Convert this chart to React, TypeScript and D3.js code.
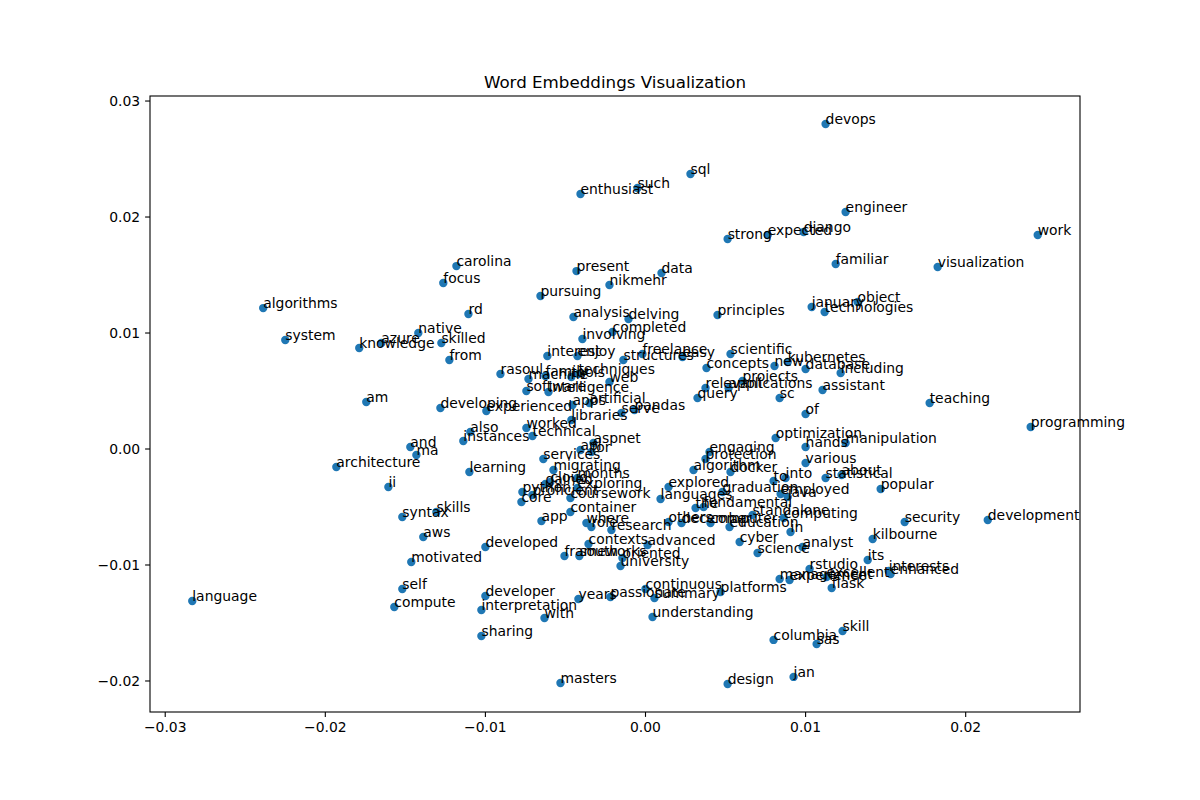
import { useEffect } from 'react'
import * as d3 from 'd3'

// word, x, y
const words: [string, number, number][] = [
  ['devops', 0.01125, 0.02802], ['sql', 0.00281, 0.02371], ['such', -0.0005, 0.0225],
  ['enthusiast', -0.00406, 0.02198], ['engineer', 0.0125, 0.02043], ['work', 0.0245, 0.01845],
  ['django', 0.00988, 0.01871], ['expected', 0.00763, 0.01845], ['strong', 0.00513, 0.0181],
  ['carolina', -0.01181, 0.01577], ['familiar', 0.01188, 0.01595], ['visualization', 0.01825, 0.01569],
  ['present', -0.00431, 0.01534], ['data', 0.001, 0.01517], ['focus', -0.01263, 0.01431],
  ['nikmehr', -0.00225, 0.01414], ['pursuing', -0.00656, 0.01319], ['algorithms', -0.02388, 0.01215],
  ['object', 0.01325, 0.01267], ['january', 0.01038, 0.01224], ['technologies', 0.01119, 0.01181],
  ['rd', -0.01106, 0.01164], ['principles', 0.0045, 0.01155], ['analysis', -0.0045, 0.01138],
  ['delving', -0.00106, 0.01121], ['completed', -0.00206, 0.01009], ['native', -0.01419, 0.01],
  ['system', -0.0225, 0.0094], ['involving', -0.00394, 0.00948], ['azure', -0.0165, 0.00914],
  ['skilled', -0.01275, 0.00914], ['knowledge', -0.01788, 0.00871], ['interest', -0.00613, 0.00802],
  ['enjoy', -0.00425, 0.00802], ['freelance', -0.00019, 0.00819], ['structures', -0.00138, 0.00767],
  ['easy', 0.00231, 0.00793], ['scientific', 0.00531, 0.00819], ['from', -0.01225, 0.00767],
  ['kubernetes', 0.00888, 0.0075], ['concepts', 0.00381, 0.00698], ['new', 0.00806, 0.00715],
  ['database', 0.01, 0.0069], ['including', 0.01219, 0.00655], ['rasoul', -0.00906, 0.00647],
  ['machine', -0.00731, 0.00603], ['family', -0.00625, 0.00629], ['tools', -0.00463, 0.00621],
  ['techniques', -0.00419, 0.00647], ['web', -0.00225, 0.00578], ['software', -0.00744, 0.005],
  ['intelligence', -0.00606, 0.00491], ['applications', 0.00519, 0.00526], ['projects', 0.00606, 0.00586],
  ['relevant', 0.00375, 0.00526], ['query', 0.00325, 0.0044], ['sc', 0.00838, 0.0044],
  ['assistant', 0.01106, 0.00509], ['teaching', 0.01775, 0.00397], ['apps', -0.00456, 0.00379],
  ['artificial', -0.0035, 0.00397], ['experienced', -0.00994, 0.00328], ['developing', -0.01281, 0.00353],
  ['am', -0.01744, 0.00405], ['serve', -0.0015, 0.0031], ['pandas', -0.00069, 0.00336],
  ['libraries', -0.00463, 0.0025], ['of', 0.01, 0.00302], ['worked', -0.00744, 0.00181],
  ['technical', -0.00706, 0.00112], ['also', -0.01094, 0.00147], ['instances', -0.01138, 0.00069],
  ['programming', 0.02406, 0.0019], ['optimization', 0.00813, 0.00095], ['hands', 0.01, 0.00017],
  ['manipulation', 0.0125, 0.00052], ['aspnet', -0.00325, 0.00052], ['api', -0.00406, -0.00009],
  ['for', -0.00338, -0.00026], ['and', -0.01469, 0.00017], ['ma', -0.01431, -0.00052],
  ['engaging', 0.004, -0.00026], ['protection', 0.00375, -0.00086], ['services', -0.00638, -0.00086],
  ['various', 0.01, -0.00121], ['architecture', -0.01931, -0.00155], ['migrating', -0.00575, -0.00181],
  ['learning', -0.011, -0.00198], ['algorithm', 0.003, -0.00181], ['docker', 0.00531, -0.00198],
  ['months', -0.00425, -0.0025], ['statistical', 0.01125, -0.0025], ['about', 0.01225, -0.00224],
  ['into', 0.00875, -0.0025], ['to', 0.008, -0.00276], ['popular', 0.01469, -0.00345],
  ['ii', -0.01606, -0.00328], ['gained', -0.00625, -0.00302], ['cloud', -0.00594, -0.00284],
  ['exploring', -0.00425, -0.00336], ['python', -0.00769, -0.00371], ['proficient', -0.00706, -0.00397],
  ['coursework', -0.00469, -0.00422], ['core', -0.00775, -0.00457], ['explored', 0.00144, -0.00328],
  ['graduation', 0.00481, -0.00371], ['employed', 0.00844, -0.00388], ['languages', 0.00094, -0.00431],
  ['java', 0.00888, -0.00414], ['the', 0.00313, -0.00509], ['fundamental', 0.00363, -0.005],
  ['container', -0.00469, -0.00543], ['standalone', 0.00669, -0.00569], ['computing', 0.00863, -0.00595],
  ['skills', -0.01306, -0.00543], ['syntax', -0.01519, -0.00586], ['app', -0.0065, -0.00621],
  ['others', 0.00144, -0.00629], ['december', 0.00225, -0.00638], ['computer', 0.00406, -0.00638],
  ['education', 0.00525, -0.00672], ['cyber', 0.00588, -0.00802], ['in', 0.00906, -0.00715],
  ['where', -0.00369, -0.00638], ['role', -0.00338, -0.00672], ['research', -0.00213, -0.00698],
  ['analyst', 0.00981, -0.00845], ['science', 0.007, -0.00896], ['contexts', -0.00356, -0.00819],
  ['advanced', 0.00013, -0.00828], ['frameworks', -0.00506, -0.00922], ['south', -0.00413, -0.00922],
  ['oriented', -0.00144, -0.0094], ['university', -0.00156, -0.01009], ['developed', -0.01, -0.00845],
  ['aws', -0.01388, -0.00759], ['motivated', -0.01463, -0.00974], ['its', 0.01388, -0.00957],
  ['kilbourne', 0.01419, -0.00776], ['security', 0.01619, -0.00629], ['development', 0.02138, -0.00612],
  ['rstudio', 0.01025, -0.01034], ['management', 0.00838, -0.01121], ['experience', 0.009, -0.01129],
  ['excellent', 0.01131, -0.01103], ['flask', 0.01163, -0.01198], ['interests', 0.01519, -0.01052],
  ['enhanced', 0.01531, -0.01078], ['self', -0.01519, -0.01207], ['platforms', 0.00469, -0.01233],
  ['continuous', 0.0, -0.01207], ['summary', 0.00056, -0.01284], ['passionate', -0.00219, -0.01276],
  ['years', -0.00419, -0.01293], ['developer', -0.01, -0.01267], ['language', -0.02831, -0.0131],
  ['compute', -0.01569, -0.01362], ['interpretation', -0.01025, -0.01388], ['with', -0.00631, -0.01457],
  ['understanding', 0.00044, -0.01448], ['skill', 0.01231, -0.01569], ['sharing', -0.01025, -0.01612],
  ['columbia', 0.008, -0.01646], ['sas', 0.01069, -0.01681], ['jan', 0.00925, -0.01965],
  ['masters', -0.00531, -0.02017], ['design', 0.00513, -0.02026],
]

const xTicks = [-0.03, -0.02, -0.01, 0.0, 0.01, 0.02]
const yTicks = [-0.02, -0.01, 0.0, 0.01, 0.02, 0.03]

const W = 1200
const H = 800
const margin = { top: 96, right: 120, bottom: 88, left: 150 }
const font = 'DejaVu Sans, sans-serif'

function pad(ext: [number, number]): [number, number] {
  const d = (ext[1] - ext[0]) * 0.05
  return [ext[0] - d, ext[1] + d]
}

const fmt = (v: number) => d3.format('.2f')(v).replace('-', '\u2212')

export default function App() {
  useEffect(() => {
    document.body.style.margin = '0'
  }, [])

  const xExt = d3.extent(words, d => d[1]) as [number, number]
  const yExt = d3.extent(words, d => d[2]) as [number, number]
  const x = d3.scaleLinear().domain(pad(xExt)).range([margin.left, W - margin.right])
  const y = d3.scaleLinear().domain(pad(yExt)).range([H - margin.bottom, margin.top])

  const left = margin.left
  const right = W - margin.right
  const top = margin.top
  const bottom = H - margin.bottom

  return (
    <svg width={W} height={H} style={{ display: 'block', background: '#fff' }} fontFamily={font}>
      <text x={(left + right) / 2} y={top - 8} textAnchor="middle" fontSize={16.7}>
        Word Embeddings Visualization
      </text>

      <g>
        {words.map(d => (
          <circle key={'c' + d[0] + d[1]} cx={x(d[1])} cy={y(d[2])} r={4.2} fill="#1f77b4" />
        ))}
      </g>

      <g fontSize={13.9}>
        {words.map(d => (
          <text key={'t' + d[0] + d[1]} x={x(d[1])} y={y(d[2])}>{d[0]}</text>
        ))}
      </g>

      <rect x={left} y={top} width={right - left} height={bottom - top} fill="none" stroke="#000" strokeWidth={1.1} />

      <g fontSize={13.9}>
        {xTicks.map(t => (
          <g key={'x' + t}>
            <line x1={x(t)} x2={x(t)} y1={bottom} y2={bottom + 4.9} stroke="#000" strokeWidth={1.1} />
            <text x={x(t)} y={bottom + 20} textAnchor="middle">{fmt(t)}</text>
          </g>
        ))}
        {yTicks.map(t => (
          <g key={'y' + t}>
            <line x1={left - 4.9} x2={left} y1={y(t)} y2={y(t)} stroke="#000" strokeWidth={1.1} />
            <text x={left - 9.8} y={y(t)} dy="0.35em" textAnchor="end">{fmt(t)}</text>
          </g>
        ))}
      </g>
    </svg>
  )
}
